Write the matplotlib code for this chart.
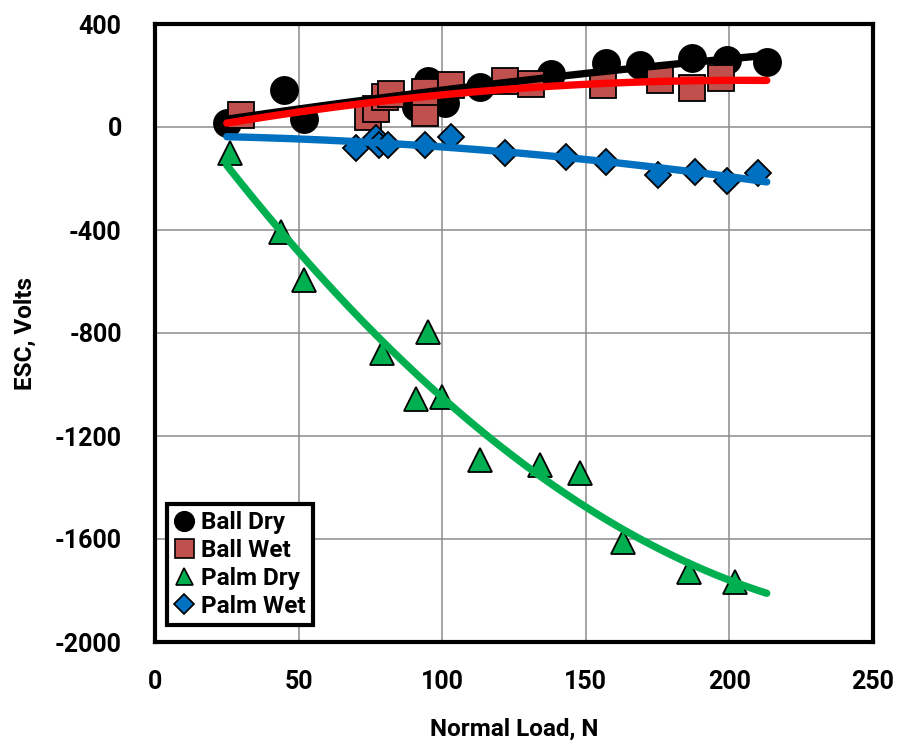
import numpy as np
import matplotlib
matplotlib.use("Agg")
import matplotlib.pyplot as plt
from matplotlib.lines import Line2D

# ---- data ----
ball_dry_load = [25, 45, 52, 91, 95, 101, 113, 138, 157, 169, 187, 199, 213]
ball_dry_esc = [15, 145, 30, 78, 180, 93, 155, 205, 248, 241, 268, 260, 253]

ball_wet_load = [30, 74, 77, 80, 82, 94, 94, 103, 122, 131, 156, 176, 187, 197]
ball_wet_esc = [47, 40, 68, 115, 130, 54, 136, 163, 180, 168, 165, 183, 152, 190]

palm_dry_load = [26, 44, 52, 79, 95, 91, 100, 113, 134, 148, 163, 186, 202]
palm_dry_esc = [-100, -408, -594, -878, -796, -1057, -1048, -1293, -1313, -1345, -1611, -1728, -1767]

palm_wet_load = [70, 77, 78, 81, 94, 103, 122, 143, 157, 175, 188, 199, 210]
palm_wet_esc = [-82, -43, -70, -70, -70, -39, -101, -117, -136, -186, -175, -209, -179]

series_names = ["Ball Dry", "Ball Wet", "Palm Dry", "Palm Wet"]
x_ticks = [0, 50, 100, 150, 200, 250]
y_ticks = [-2000, -1600, -1200, -800, -400, 0, 400]

FONT = ["Roboto", "DejaVu Sans"]
plt.rcParams["font.family"] = FONT
plt.rcParams["font.weight"] = "bold"
plt.rcParams["axes.unicode_minus"] = False

fig = plt.figure(figsize=(9.03, 7.47), dpi=100)
ax = fig.add_axes([155 / 903, 1 - 642 / 747, (873 - 155) / 903, (642 - 24) / 747])

styles = [
    dict(marker="o", color="black", ms=19.5, line="black"),
    dict(marker="s", color="#C0504D", ms=19, line="#FF0000"),
    dict(marker="^", color="#00B050", ms=17, line="#00B050"),
    dict(marker="D", color="#0070C0", ms=13.5, line="#0070C0"),
]
data = [
    (ball_dry_load, ball_dry_esc),
    (ball_wet_load, ball_wet_esc),
    (palm_dry_load, palm_dry_esc),
    (palm_wet_load, palm_wet_esc),
]

for (xs, ys), st in zip(data, styles):
    ax.plot(xs, ys, linestyle="none", marker=st["marker"], ms=st["ms"],
            mfc=st["color"], mec="black", mew=1.3, zorder=3)

all_x = np.concatenate([np.asarray(d[0], float) for d in data])
xfit = np.linspace(all_x.min(), all_x.max(), 200)
for (xs, ys), st in zip(data, styles):
    coef = np.polyfit(xs, ys, 2)
    ax.plot(xfit, np.polyval(coef, xfit), color=st["line"], lw=5.3,
            solid_capstyle="round", zorder=4)

ax.set_xlim(0, 250)
ax.set_ylim(-2000, 400)
ax.set_xticks(x_ticks)
ax.set_yticks(y_ticks)
ax.grid(True, color="#8c8c8c", lw=1.1, zorder=0)
ax.set_axisbelow(True)
ax.tick_params(length=0, labelsize=18)
ax.tick_params(axis="y", pad=24)
ax.tick_params(axis="x", pad=20)
for lab in ax.get_xticklabels() + ax.get_yticklabels():
    lab.set_fontweight("bold")
for sp in ax.spines.values():
    sp.set_linewidth(3)
    sp.set_color("black")

ax.set_xlabel("Normal Load, N", fontsize=17.5, fontweight="bold", labelpad=17)
ax.set_ylabel("ESC, Volts", fontsize=17.5, fontweight="bold", labelpad=13)

handles = [Line2D([], [], linestyle="none", marker=st["marker"],
                  ms=st["ms"] * 0.72, mfc=st["color"], mec="black", mew=1.2)
           for st in styles]
leg = ax.legend(handles, series_names, loc="lower left",
                bbox_to_anchor=(12 / 718, 17 / 618), borderaxespad=0,
                prop=dict(family=FONT, weight="bold", size=17.5),
                frameon=True, fancybox=False, handlelength=0.8,
                handletextpad=0.3, borderpad=0.3, labelspacing=0.2)
leg.get_frame().set_edgecolor("black")
leg.get_frame().set_linewidth(3)
leg.get_frame().set_alpha(1)

fig.savefig("out.png", dpi=100)
